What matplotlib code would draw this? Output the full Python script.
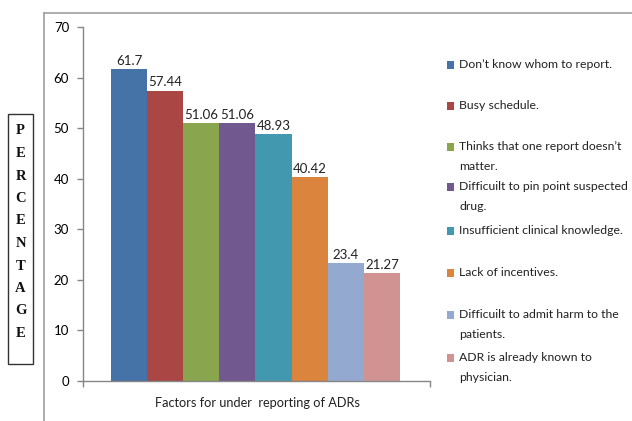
import matplotlib
matplotlib.use("Agg")
import matplotlib.pyplot as plt
from matplotlib.patches import Rectangle
from matplotlib.lines import Line2D

# Factors for under reporting of ADRs (percentage)
factors = [
    "Don\u2019t know whom to report.",
    "Busy schedule.",
    "Thinks that one report doesn\u2019t\nmatter.",
    "Difficuilt to pin point suspected\ndrug.",
    "Insufficient clinical knowledge.",
    "Lack of incentives.",
    "Difficuilt to admit harm to the\npatients.",
    "ADR is already known to\nphysician.",
]
values = [61.7, 57.44, 51.06, 51.06, 48.93, 40.42, 23.4, 21.27]
value_labels = ["61.7", "57.44", "51.06", "51.06", "48.93", "40.42", "23.4", "21.27"]
colors = ["#4572A7", "#AA4643", "#89A54E", "#71588F",
          "#4198AF", "#DB843D", "#93A9CF", "#D19392"]
yticks = [0, 10, 20, 30, 40, 50, 60, 70]

W, H = 632, 421
fig = plt.figure(figsize=(W / 100, H / 100), dpi=100)
font = "Lato"
gray = "#868686"

ax = fig.add_axes([83 / W, 1 - 381 / H, (430 - 83) / W, (381 - 27) / H])
x = list(range(len(values)))
ax.bar(x, values, width=1.0, color=colors, edgecolor="none")
for xi, v, lab in zip(x, values, value_labels):
    ax.text(xi, v + 0.4, lab, ha="center", va="bottom", fontsize=9.5,
            family=font, color="#222222")

ax.set_xlim(-1.27, 8.33)
ax.set_ylim(0, 70)
ax.set_yticks(yticks)
ax.set_yticklabels([str(t) for t in yticks], family=font, fontsize=9.5)
ax.set_xticks([-1.27, 8.33])
ax.set_xticklabels(["", ""])
ax.tick_params(axis="both", direction="out", length=4, color=gray, width=1)
ax.tick_params(axis="y", pad=6)
for s in ["top", "right"]:
    ax.spines[s].set_visible(False)
for s in ["left", "bottom"]:
    ax.spines[s].set_color(gray)
    ax.spines[s].set_linewidth(1)

fig.text(257 / W, 1 - 403 / H, "Factors for under  reporting of ADRs",
         ha="center", va="center", fontsize=9.2, family=font, color="#222222")

# outer chart border (left and top visible)
fig.add_artist(Line2D([44 / W, 44 / W], [0, 1 - 13 / H], transform=fig.transFigure,
                      color="#a0a0a0", lw=1.2))
fig.add_artist(Line2D([44 / W, 1], [1 - 13 / H, 1 - 13 / H], transform=fig.transFigure,
                      color="#a0a0a0", lw=1.2))

# boxed vertical y label
fig.add_artist(Rectangle((8 / W, 1 - 364 / H), 25 / W, 250 / H, transform=fig.transFigure,
                         fill=False, edgecolor="#333333", lw=1.0))
for i, ch in enumerate("PERCENTAGE"):
    fig.text(20.5 / W, 1 - (131 + i * 22.5) / H, ch, ha="center", va="center",
             fontsize=10.5, family="Liberation Serif", weight="bold", color="#111111")

# legend
legend_y = [65, 106, 147, 187, 231, 273, 315, 358]
for lab, c, ly in zip(factors, colors, legend_y):
    fig.add_artist(Rectangle((447 / W, 1 - (ly + 3.5) / H), 7.5 / W, 7.5 / H,
                             transform=fig.transFigure, facecolor=c, edgecolor="none"))
    fig.text(459 / W, 1 - (ly - 6) / H, lab, ha="left", va="top", fontsize=8.8,
             family=font, color="#222222", linespacing=1.95)

fig.savefig("out.png", dpi=100)
